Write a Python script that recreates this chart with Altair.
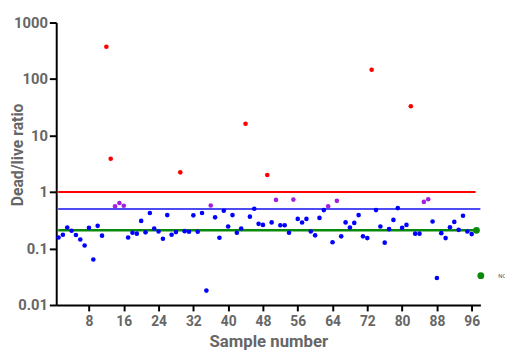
import altair as alt
import pandas as pd

# Dead/live ratio for samples 1..96
ratios = [
    0.157, 0.175, 0.235, 0.206, 0.173, 0.144, 0.113, 0.232, 0.064, 0.252,
    0.169, 372, 3.87, 0.56, 0.64, 0.57, 0.157, 0.19, 0.183, 0.308,
    0.193, 0.425, 0.226, 0.2, 0.149, 0.39, 0.175, 0.195, 2.23, 0.203,
    0.198, 0.386, 0.198, 0.425, 0.018, 0.577, 0.356, 0.155, 0.466, 0.245,
    0.39, 0.19, 0.226, 16.2, 0.366, 0.505, 0.273, 0.262, 2.0, 0.29,
    0.725, 0.258, 0.258, 0.19, 0.734, 0.334, 0.288, 0.334, 0.2, 0.171,
    0.348, 0.479, 0.56, 0.129, 0.697, 0.164, 0.29, 0.235, 0.284, 0.39,
    0.164, 0.153, 146, 0.479, 0.245, 0.127, 0.22, 0.321, 0.519, 0.232,
    0.262, 33, 0.183, 0.183, 0.669, 0.745, 0.3, 0.03, 0.187, 0.153,
    0.238, 0.296, 0.214, 0.381, 0.2, 0.18,
]
red_samples = [12, 13, 29, 44, 49, 73, 82]
purple_samples = [14, 15, 16, 36, 51, 55, 63, 65, 85, 86]

# threshold lines: value, start sample, end sample, colour, width
line_values = [1.0, 0.5, 0.21]
line_starts = [0.92, 0.92, 0.92]
line_ends = [96.9, 98.0, 97.0]
line_colors = ["#ff0000", "#1010ee", "#0a8a0a"]
line_widths = [2.2, 1.6, 2.6]

# control point and negative control
ctrl_sample, ctrl_value = 97.1, 0.21
nc_sample, nc_value = 98.1, 0.033
nc_label = "NC"
x_ticks = [8, 16, 24, 32, 40, 48, 56, 64, 72, 80, 88, 96]
y_ticks = [0.01, 0.1, 1, 10, 100, 1000]

samples = list(range(1, 97))
groups = ["red" if s in red_samples else "purple" if s in purple_samples else "blue" for s in samples]
df = pd.DataFrame({"sample": samples, "ratio": ratios, "group": groups})

lines_df = pd.DataFrame({
    "v": line_values, "x1": line_starts, "x2": line_ends,
    "c": line_colors, "w": line_widths,
})

W, H = 431, 287
xscale = alt.Scale(domain=[0.47, 98], nice=False, zero=False)
yscale = alt.Scale(type="log", domain=[0.01, 1000], nice=False)
FONT = "Roboto"
GRAY = "#666666"

xaxis = alt.Axis(
    title="Sample number", values=x_ticks, labelOverlap=False,
    tickSize=6, labelPadding=4, labelFontSize=14,
    titleFontSize=17, titleY=42, titleBaseline="alphabetic",
)
yaxis = alt.Axis(
    title="Dead/live  ratio", values=y_ticks, format=".2~f", labelOverlap=False,
    tickSize=7, labelPadding=2, labelFontSize=15,
    titleFontSize=16, titleX=-39.5, titleY=134, titleBaseline="middle", titleAlign="center",
)

base_rules = alt.Chart(lines_df).mark_rule().encode(
    x=alt.X("x1:Q", scale=xscale, axis=xaxis),
    x2="x2:Q",
    y=alt.Y("v:Q", scale=yscale, axis=yaxis),
    color=alt.Color("c:N", scale=None),
    strokeWidth=alt.StrokeWidth("w:Q", scale=None),
)

pts = alt.Chart(df).mark_circle(size=22, opacity=1).encode(
    x=alt.X("sample:Q", scale=xscale, axis=xaxis),
    y=alt.Y("ratio:Q", scale=yscale, axis=yaxis),
    color=alt.Color("group:N", scale=alt.Scale(domain=["blue", "red", "purple"],
                                               range=["#0000ff", "#ff0000", "#a020e0"]),
                    legend=None),
)

big = alt.Chart(pd.DataFrame({"s": [ctrl_sample, nc_sample], "v": [ctrl_value, nc_value]})).mark_circle(
    size=48, opacity=1, color="#0a8a0a").encode(
    x=alt.X("s:Q", scale=xscale, axis=xaxis), y=alt.Y("v:Q", scale=yscale, axis=yaxis))

nc_text = alt.Chart(pd.DataFrame({"s": [nc_sample + 4.0], "v": [nc_value], "t": [nc_label]})).mark_text(
    align="left", baseline="middle", fontSize=6, font=FONT, color="#555555").encode(
    x=alt.X("s:Q", scale=xscale, axis=xaxis), y=alt.Y("v:Q", scale=yscale, axis=yaxis), text="t:N")

chart = alt.layer(base_rules, pts, big, nc_text).properties(
    width=W, height=H,
    autosize=alt.AutoSizeParams(type="none"),
    padding={"left": 49, "top": 12, "right": 25, "bottom": 46},
).configure_view(stroke=None).configure_axis(
    labelOverlap=False, labelBound=False, labelFlush=False,
    grid=False, domainColor="black", domainWidth=2, tickColor="black", tickWidth=2,
    labelFont=FONT, labelFontWeight="bold", labelColor=GRAY,
    titleFont=FONT, titleFontWeight="bold", titleColor=GRAY,
)

chart.save("out.html", embed_options={"renderer": "svg", "actions": False})
